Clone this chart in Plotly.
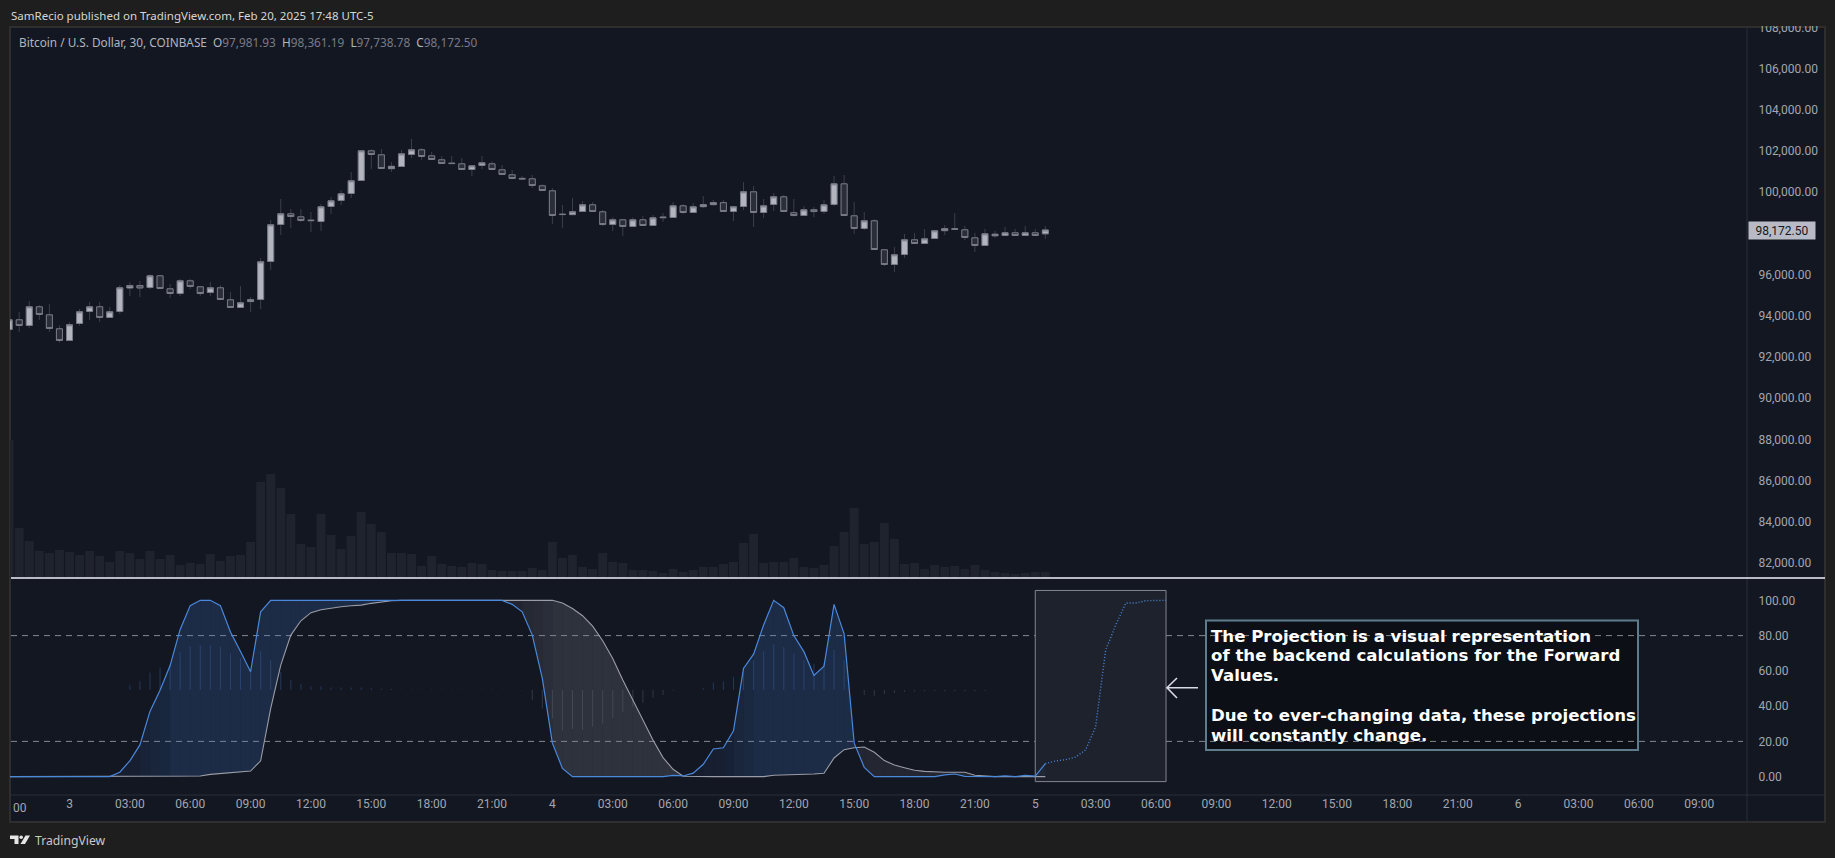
import pandas as pd
import plotly.graph_objects as go

# Bars run from Feb 2 21:00, every 30 min
opens = [93340, 93810, 93534, 94441, 94052, 93373, 92806, 93631, 94214, 94441, 93923, 94214, 95355,
         95476, 95379, 95946, 95314, 95087, 95703, 95412, 95136, 95363, 94781, 94408, 94695, 94796,
         96641, 98437, 98955, 98809, 98650, 98582, 99310, 99602, 99941, 100572, 102013, 101819,
         101147, 101252, 101834, 102062, 101770, 101576, 101415, 101382, 101106, 101301, 101382,
         101091, 100848, 100675, 100654, 100314, 100071, 98940, 98914, 99068, 99392, 99052, 98437,
         98664, 98340, 98664, 98388, 98800, 98776, 99343, 99019, 99302, 99400, 99497, 99068, 99310,
         100023, 99019, 99408, 99780, 99008, 98874, 99153, 99068, 99408, 100411, 98858, 98243, 98615,
         97208, 96495, 96980, 97693, 97514, 97757, 98137, 98200, 98178, 97790, 97417, 97889, 97903,
         98033, 97903, 98033, 97981.93]
closes = [93810, 93534, 94441, 94068, 93389, 92806, 93567, 94198, 94441, 93923, 94198, 95363, 95476,
          95355, 95946, 95330, 95087, 95703, 95427, 95087, 95363, 94796, 94408, 94635, 94785, 96625,
          98421, 98955, 98825, 98631, 98625, 99295, 99586, 99926, 100557, 102013, 101834, 101155,
          101261, 101867, 102062, 101737, 101592, 101398, 101395, 101106, 101285, 101431, 101106,
          100864, 100670, 100650, 100330, 100087, 98874, 98920, 99060, 99392, 99068, 98437, 98664,
          98340, 98664, 98388, 98761, 98770, 99343, 99019, 99295, 99400, 99497, 99068, 99295, 100023,
          99019, 99343, 99780, 99068, 98870, 99149, 99064, 99392, 100411, 98874, 98243, 98615, 97223,
          96495, 96965, 97693, 97514, 97741, 98130, 98235, 98225, 97806, 97417, 97984, 97966, 98033,
          97903, 98033, 97903, 98172.50]
highs = [93834, 94190, 94724, 94530, 94578, 93543, 93688, 94335, 94675, 94675, 94432, 95500, 95630,
         95695, 96034, 95986, 95549, 95792, 95792, 95452, 95646, 95500, 95161, 95452, 94918, 96811,
         98655, 99675, 99189, 99189, 99044, 99432, 99772, 100112, 100985, 102053, 102086, 102102,
         101471, 102053, 102587, 102150, 101956, 101762, 101762, 101665, 101325, 101762, 101503,
         101325, 101082, 100791, 100840, 100387, 100209, 99384, 99723, 99578, 99529, 99141, 98785,
         98704, 98785, 98850, 98898, 98995, 99529, 99432, 99481, 99820, 99626, 99626, 99335, 100500,
         100306, 99675, 99966, 99869, 99675, 99335, 99286, 99626, 100791, 100840, 99529, 99044, 98704,
         97248, 97345, 97976, 98024, 98219, 98170, 98413, 98995, 98364, 98024, 98219, 98121, 98316,
         98219, 98364, 98219, 98361.19]
lows = [93316, 93219, 93413, 93801, 93219, 92701, 92782, 93526, 93801, 93704, 93899, 94093, 94966,
        94918, 95306, 95306, 94869, 94966, 95306, 94966, 94966, 94772, 94384, 94384, 94190, 94335,
        96228, 97927, 98267, 98558, 98073, 98121, 98947, 99384, 99723, 100548, 101131, 101131,
        100985, 101228, 101665, 101568, 101568, 101374, 101374, 101082, 100791, 101131, 101082,
        100840, 100646, 100629, 100209, 100063, 98461, 98267, 98898, 99044, 99044, 98364, 98121,
        97879, 98316, 98364, 98364, 98558, 98752, 98947, 98995, 99238, 99367, 99044, 98607, 99141,
        98316, 98752, 99092, 99044, 98850, 98850, 98801, 98947, 99335, 98850, 97976, 98170, 97199,
        96423, 96131, 96811, 97490, 97490, 97733, 97927, 98170, 97685, 97102, 97393, 97782, 97879,
        97879, 97879, 97879, 97738.78]
volumes = [414, 150, 111, 81, 75, 84, 78, 69, 81, 66, 48, 81, 75, 57, 81, 57, 69, 39, 45, 42, 72, 51,
           66, 69, 108, 288, 312, 270, 192, 102, 93, 192, 129, 87, 126, 198, 162, 138, 75, 75, 72, 36,
           66, 42, 36, 33, 45, 42, 24, 21, 21, 21, 30, 24, 108, 60, 69, 33, 27, 75, 48, 45, 24, 24, 21,
           15, 27, 18, 24, 33, 33, 42, 48, 105, 132, 45, 48, 48, 60, 33, 30, 39, 96, 138, 210, 102, 108,
           165, 117, 42, 45, 27, 39, 33, 36, 27, 39, 24, 18, 15, 12, 15, 18, 18]

fast_line = [0, 0, 0, 0, 0, 0, 0, 0, 0, 0, 0, 2.5, 9, 18, 37, 49, 63, 83.5, 97, 100, 100, 97, 82, 71,
             59.5, 93.5, 100, 100, 100, 100, 100, 100, 100, 100, 100, 100, 100, 100, 100, 100, 100,
             100, 100, 100, 100, 100, 100, 100, 100, 100, 97.7, 93.5, 80.3, 55.7, 19, 4.7, 0, 0, 0, 0,
             0, 0, 0, 0, 0, 0, 0.7, 0.4, 2, 7, 15.7, 16.4, 26, 61.4, 69.5, 86, 100, 95.8, 80, 70.9,
             57.4, 62.7, 97.7, 81, 19, 5.3, 0, 0, 0, 0, 0, 0, 0, 1, 1.5, 0.2, 0, 0, 0, 0.4, 0, 0.7,
             0.3, 7.4]
slow_line = [0, 0, 0, 0, 0, 0, 0, 0, 0, 0, 0, 0, 0, 0, 0, 0, 0, 0, 0.2, 0.4, 1.3, 1.7, 2, 2.5, 3.2, 9,
             38.7, 63.3, 80.3, 88.4, 93, 94.7, 95.6, 96.4, 96.9, 97.3, 98.3, 99.2, 99.8, 100, 100, 100,
             100, 100, 100, 100, 100, 100, 100, 100, 100, 100, 100, 100, 100, 98.5, 95.4, 91.3, 85.4,
             77.1, 67, 54.8, 43.5, 31.7, 20.8, 10.8, 4.2, 0.2, 0, 0, 0, 0, 0, 0, 0, 0, 0.8, 0.9, 1.1,
             1.3, 1.5, 1.9, 10.6, 15.3, 16.4, 16.8, 13.8, 9.1, 6.6, 5.1, 3.6, 3, 2.6, 2.5, 2.5, 2.5,
             0.8, 0.2, 0, 0, 0, 0, 0, 0]
histogram = [0, 0, 0, 0, 0, 0, 0, 0, 0, 0, 0, 0, 2.8, 5, 10, 12.8, 15, 21.7, 25, 25.5, 25.5, 24.6, 20.8,
             18, 10.4, 22, 17, 10.4, 5.7, 3.4, 2, 2, 1.5, 1.5, 1.5, 1.5, 1, 0.8, 0.6, 0.4, 0.4, 0.4,
             0.4, 0.4, 0.4, 0.4, 0.4, 0.4, 0.4, 0.4, 0, -0.3, -5.6, -10.4, -16, -23, -22, -22.7, -20.8,
             -18.9, -16, -12.3, -9.4, -7.2, -4.3, -2.8, -0.4, 0, 0, 1, 4.3, 5, 7.6, 13, 17, 22, 26,
             24.6, 20.8, 17, 15, 15.7, 22.7, 17, 0, -2.8, -3.2, -2.3, -1.7, -1, -0.8, -0.7, -0.7, -0.6,
             -0.6, -0.6, -0.6, -0.5, 0, 0, 0, 0, 0, 0]
projection = [7.4, 8.9, 9.6, 11.1, 15.1, 28.3, 71.8, 86, 98.5, 98.5, 99.8, 100, 100]

price_ticks = [82000, 84000, 86000, 88000, 90000, 92000, 94000, 96000, 100000, 102000, 104000, 106000, 108000]
osc_ticks = [0, 20, 40, 60, 80, 100]
time_tick_labels = ["3", "03:00", "06:00", "09:00", "12:00", "15:00", "18:00", "21:00",
                    "4", "03:00", "06:00", "09:00", "12:00", "15:00", "18:00", "21:00",
                    "5", "03:00", "06:00", "09:00", "12:00", "15:00", "18:00", "21:00",
                    "6", "03:00", "06:00", "09:00"]
note_lines = ["The Projection is a visual representation",
              "of the backend calculations for the Forward",
              "Values.",
              "Due to ever-changing data, these projections",
              "will constantly change."]

W, H = 1835, 858
BG = "#131722"
OUTER = "#1e1e1e"
BORDER = "#2e2e2e"
AXIS_LINE = "#2a2e39"
TICK = "#a3a6af"
FONT = "Roboto"


def px(x):
    return x / W


def py(y):
    return 1 - y / H


times = pd.date_range("2025-02-02 21:00", periods=len(opens), freq="30min")
proj_times = pd.date_range(times[-1], periods=len(projection), freq="30min")
tick_times = pd.date_range("2025-02-03 00:00", periods=len(time_tick_labels), freq="3h")
mid_level = 49.1

fig = go.Figure()

# volume under the candles
fig.add_trace(go.Bar(x=times, y=volumes, yaxis="y", width=1600000, marker_color="#1f232d",
                     marker_line_width=0, hoverinfo="skip"))

# wicks and bodies are two traces because TradingView colours them differently
fig.add_trace(go.Candlestick(x=times, open=opens, high=highs, low=lows, close=closes, yaxis="y2",
                             increasing=dict(line=dict(color="#3b3f4a", width=1), fillcolor="#3b3f4a"),
                             decreasing=dict(line=dict(color="#3b3f4a", width=1), fillcolor="#3b3f4a"),
                             whiskerwidth=0, hoverinfo="skip"))
fig.add_trace(go.Candlestick(x=times, open=opens, close=closes, yaxis="y2",
                             high=[max(o, c) for o, c in zip(opens, closes)],
                             low=[min(o, c) for o, c in zip(opens, closes)],
                             increasing=dict(line=dict(color="#787b86", width=1), fillcolor="#b2b5be"),
                             decreasing=dict(line=dict(color="#787b86", width=1), fillcolor="#2a2e39"),
                             whiskerwidth=0))

# fill between the two lines, stronger once the run has built up
run_peak = 0
run_sign = 1
for i in range(len(fast_line) - 1):
    sign = 1 if fast_line[i + 1] + fast_line[i] >= slow_line[i + 1] + slow_line[i] else -1
    if sign != run_sign:
        run_sign = sign
        run_peak = 0
    run_peak = max(run_peak, abs(histogram[i + 1]))
    strength = min(1, run_peak / 22)
    if sign > 0:
        color = f"rgba(62,118,200,{0.06 + 0.16 * strength:.3f})"
    else:
        color = f"rgba(125,128,140,{0.14 + 0.12 * strength:.3f})"
    fig.add_trace(go.Scatter(x=[times[i], times[i + 1], times[i + 1], times[i], times[i]],
                             y=[fast_line[i], fast_line[i + 1], slow_line[i + 1], slow_line[i], fast_line[i]],
                             yaxis="y3", mode="lines", fill="toself", fillcolor=color,
                             line=dict(width=0), hoverinfo="skip"))

hist_colors = ["rgba(70,125,205,0.32)" if v >= 0 else "rgba(130,133,145,0.3)" for v in histogram]
fig.add_trace(go.Bar(x=times, y=histogram, base=[mid_level] * len(histogram), yaxis="y3", width=180000,
                     marker_color=hist_colors, marker_line_width=0, hoverinfo="skip"))

fig.add_trace(go.Scatter(x=times, y=slow_line, yaxis="y3", mode="lines",
                         line=dict(color="#9b9da6", width=1.1)))
fig.add_trace(go.Scatter(x=times, y=fast_line, yaxis="y3", mode="lines",
                         line=dict(color="#4a88dc", width=1.2)))
fig.add_trace(go.Scatter(x=proj_times, y=projection, yaxis="y3", mode="lines",
                         line=dict(color="#4a88dc", width=1.4, dash="1px,2px")))

shapes = [
    dict(type="rect", xref="paper", yref="paper", x0=px(10), x1=px(1825), y0=py(822), y1=py(27),
         fillcolor=BG, line=dict(color=BORDER, width=2), layer="below"),
    # annotation box
    dict(type="rect", xref="paper", yref="paper", x0=px(1206), x1=px(1638), y0=py(750), y1=py(620.5),
         fillcolor="#0c0f16", line=dict(color="#5f7c8c", width=2), layer="below"),
    # projection box
    dict(type="rect", xref="x", yref="y3", x0=times[-2], x1=proj_times[-1], y0=-2.8, y1=105.6,
         fillcolor="#1e222d", line=dict(color="#83868f", width=1), layer="below"),
    dict(type="line", xref="paper", yref="y3", x0=px(11), x1=px(1743), y0=80, y1=80,
         line=dict(color="#85888f", width=1, dash="6px,5px"), layer="below"),
    dict(type="line", xref="paper", yref="y3", x0=px(11), x1=px(1743), y0=20, y1=20,
         line=dict(color="#85888f", width=1, dash="6px,5px"), layer="below"),
    # axis borders and pane separator
    dict(type="line", xref="paper", yref="paper", x0=px(1747), x1=px(1747), y0=py(822), y1=py(27),
         line=dict(color=AXIS_LINE, width=1)),
    dict(type="line", xref="paper", yref="paper", x0=px(11), x1=px(1825), y0=py(795), y1=py(795),
         line=dict(color=AXIS_LINE, width=1)),
    dict(type="line", xref="paper", yref="paper", x0=px(11), x1=px(1825), y0=py(578), y1=py(578),
         line=dict(color="#f0f3fa", width=1.5)),
    # hides the part of the 108,000 label above the pane
    dict(type="rect", xref="paper", yref="paper", x0=px(1748), x1=px(1830), y0=py(26), y1=py(5),
         fillcolor=OUTER, line=dict(width=0)),
    # arrow next to the projection box
    dict(type="path", xref="paper", yref="paper",
         path=f"M {px(1198)} {py(687.7)} L {px(1167)} {py(687.7)} M {px(1177)} {py(678)} "
              f"L {px(1167)} {py(687.7)} L {px(1177)} {py(698)}",
         line=dict(color="#d8dbe2", width=1.6)),
    # TradingView logo
    dict(type="path", xref="paper", yref="paper", fillcolor="#e6e6e6", line=dict(width=0),
         path=f"M {px(10)} {py(835.5)} L {px(18.5)} {py(835.5)} L {px(18.5)} {py(844)} L {px(14.5)} {py(844)} "
              f"L {px(14.5)} {py(839)} L {px(10)} {py(839)} Z"),
    dict(type="circle", xref="paper", yref="paper", fillcolor="#e6e6e6", line=dict(width=0),
         x0=px(19.4), x1=px(23), y0=py(839), y1=py(835.5)),
    dict(type="path", xref="paper", yref="paper", fillcolor="#e6e6e6", line=dict(width=0),
         path=f"M {px(25.5)} {py(835.5)} L {px(30)} {py(835.5)} L {px(25)} {py(844)} L {px(20.5)} {py(844)} Z"),
]

annotations = [
    dict(text="SamRecio published on TradingView.com, Feb 20, 2025 17:48 UTC-5",
         x=px(9), y=py(15), font=dict(size=11.5, color="#d6d6d6", family="Noto Sans")),
    dict(text="Bitcoin / U.S. Dollar, 30, COINBASE&nbsp;&nbsp;O<span style='color:#787b86'>97,981.93</span>"
              "&nbsp;&nbsp;H<span style='color:#787b86'>98,361.19</span>"
              "&nbsp;&nbsp;L<span style='color:#787b86'>97,738.78</span>"
              "&nbsp;&nbsp;C<span style='color:#787b86'>98,172.50</span>",
         x=px(17), y=py(41.5), font=dict(size=11.8, color="#b2b5be", family="Noto Sans")),
    dict(text="TradingView", x=px(32.5), y=py(840.5), font=dict(size=12.2, color="#c8c8c8", family="Noto Sans")),
    dict(text="00", x=px(10.5), y=py(808), font=dict(size=12, color=TICK, family=FONT)),
]
# one annotation per line: the reference's line spacing is tighter than plotly's <br>
for line, y in zip(note_lines, [636, 655.7, 675.7, 715.7, 735.7]):
    annotations.append(dict(text=f"<b>{line}</b>", x=px(1209), y=py(y),
                            font=dict(size=16.6, color="#ffffff", family="DejaVu Sans")))
for a in annotations:
    a.update(xref="paper", yref="paper", xanchor="left", yanchor="middle", showarrow=False)

# last price tag on the price axis
annotations.append(dict(text="98,172.50", xref="paper", yref="y2", x=px(1748), y=closes[-1], yshift=-1,
                        xanchor="left", yanchor="middle", showarrow=False, width=64, height=15,
                        bgcolor="#b8bbc5", font=dict(size=12, color="#131722", family=FONT)))

fig.update_layout(
    width=W, height=H,
    margin=dict(l=0, r=0, t=0, b=0, autoexpand=False),
    paper_bgcolor=OUTER,
    plot_bgcolor="rgba(0,0,0,0)",
    showlegend=False,
    barmode="overlay",
    boxgap=0.4,
    boxgroupgap=0,
    shapes=shapes,
    annotations=annotations,
    font=dict(family=FONT, size=12, color=TICK),
    xaxis=dict(domain=[px(10), px(1747)], anchor="y3", type="date",
               range=["2025-02-02 21:02:33", "2025-02-06 11:22:30"],
               rangeslider=dict(visible=False), automargin=False,
               tickmode="array", tickvals=tick_times, ticktext=time_tick_labels,
               showgrid=False, zeroline=False, showline=False, ticks="", tickangle=0),
    yaxis=dict(domain=[py(578), py(27)], range=[0, 1653], visible=False, automargin=False),
    yaxis2=dict(domain=[py(578), py(27)], range=[81276, 108024], overlaying="y", side="right", anchor="x",
                tickmode="array", tickvals=price_ticks, tickformat=",.2f", automargin=False,
                showgrid=False, zeroline=False, showline=False, ticks="outside", ticklen=8,
                tickcolor="rgba(0,0,0,0)"),
    yaxis3=dict(domain=[py(795), py(579)], range=[-10.4, 112.1], side="right", anchor="x",
                tickmode="array", tickvals=osc_ticks, tickformat=".2f", automargin=False,
                showgrid=False, zeroline=False, showline=False, ticks="outside", ticklen=8,
                tickcolor="rgba(0,0,0,0)"),
)

# the page's default body margin would push the figure off the photographed window
fig.write_html("out.html", post_script="document.body.style.margin = '0';",
               config={"displayModeBar": False})
